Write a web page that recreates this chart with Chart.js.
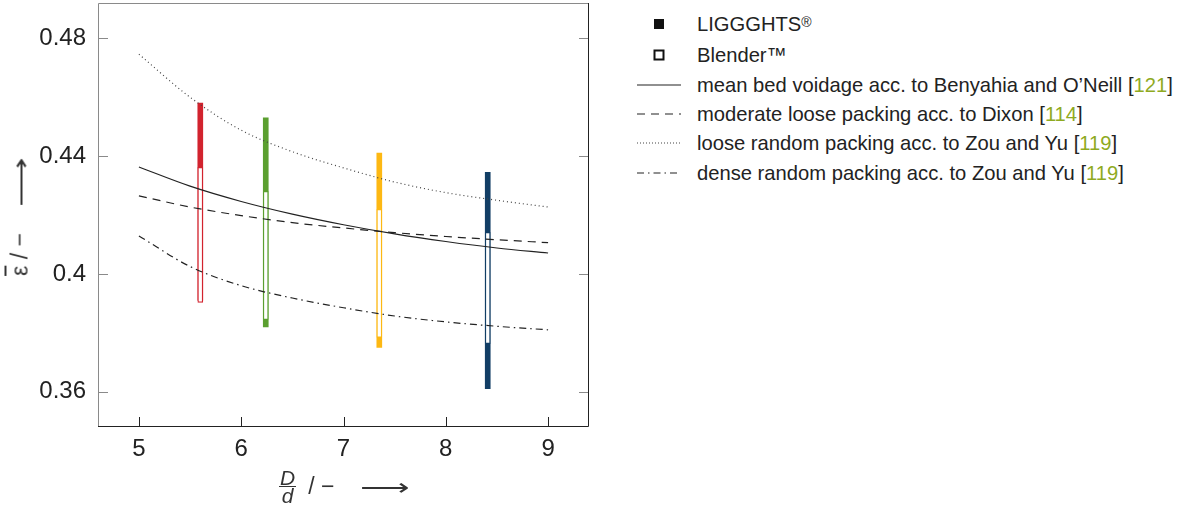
<!DOCTYPE html>
<html>
<head>
<meta charset="utf-8">
<script src="https://cdn.jsdelivr.net/npm/chart.js@4/dist/chart.umd.min.js"></script>
<style>
  html, body { margin: 0; padding: 0; background: #fff; }
  body { width: 1181px; height: 510px; position: relative; overflow: hidden; font-family: "Liberation Sans", Arial, sans-serif; color: #222; }
  #chart { position: absolute; left: 0; top: 0; }
  .legend { position: absolute; left: 636px; top: 0; }
  .row { position: absolute; left: 0; height: 30px; display: flex; align-items: center; white-space: nowrap; font-size: 20.2px; }
  .sym { width: 46px; height: 30px; display: flex; align-items: center; justify-content: center; margin-right: 15px; }
  .ref { color: #8faa1f; }
  .ytitle { position: absolute; left: 20px; top: 218px; transform: translate(-50%, -50%) rotate(-90deg); font-size: 23px; white-space: nowrap; color: #333; display: flex; align-items: center; }
  .xtitle { position: absolute; left: 279px; top: 469px; font-size: 23px; white-space: nowrap; display: flex; align-items: center; color: #333; }
  .frac { display: inline-flex; flex-direction: column; align-items: center; font-style: italic; font-size: 21px; line-height: 17px; margin-right: 12px; }
  .frac .num { border-bottom: 1.5px solid #333; padding: 0 1px; }
  .arrow { font-family: "DejaVu Sans", sans-serif; display: inline-block; transform: scaleX(1.5); transform-origin: left center; }
</style>
</head>
<body>
<canvas id="chart" width="600" height="510"></canvas>

<div class="ytitle"><span style="text-decoration:overline">ε</span>&nbsp;/&nbsp;−<span style="display:inline-block;width:26px"></span><span class="arrow" style="margin-right:14px">⟶</span></div>
<div class="xtitle"><span class="frac"><span class="num">D</span><span>d</span></span>/&nbsp;−<span style="display:inline-block;width:26px"></span><span class="arrow">⟶</span></div>

<div class="legend">
  <div class="row" style="top:9px"><span class="sym"><svg width="12" height="12"><rect x="1" y="1" width="10" height="10" fill="#111"/></svg></span>LIGGGHTS<sup style="font-size:14px;position:relative;top:-2px">®</sup></div>
  <div class="row" style="top:40px"><span class="sym"><svg width="12" height="12"><rect x="1.5" y="1.5" width="9" height="9" fill="#fff" stroke="#111" stroke-width="2"/></svg></span>Blender™</div>
  <div class="row" style="top:70px"><span class="sym"><svg width="46" height="4"><line x1="1" y1="2" x2="45" y2="2" stroke="#222" stroke-width="1.2"/></svg></span>mean bed voidage acc. to Benyahia and O’Neill [<span class="ref">121</span>]</div>
  <div class="row" style="top:99px"><span class="sym"><svg width="46" height="4"><line x1="1" y1="2" x2="45" y2="2" stroke="#222" stroke-width="1.2" stroke-dasharray="8,6"/></svg></span>moderate loose packing acc. to Dixon [<span class="ref">114</span>]</div>
  <div class="row" style="top:128px"><span class="sym"><svg width="46" height="4"><line x1="1" y1="2" x2="45" y2="2" stroke="#444" stroke-width="1.2" stroke-dasharray="1,2"/></svg></span>loose random packing acc. to Zou and Yu [<span class="ref">119</span>]</div>
  <div class="row" style="top:158px"><span class="sym"><svg width="46" height="4"><line x1="1" y1="2" x2="45" y2="2" stroke="#222" stroke-width="1.2" stroke-dasharray="7,4,1.5,4"/></svg></span>dense random packing acc. to Zou and Yu [<span class="ref">119</span>]</div>
</div>

<script>
// D/d positions for the correlation curves
const xVals     = [5, 5.5, 6, 6.5, 7, 7.5, 8, 8.5, 9];
const meanBed   = [0.4363, 0.4298, 0.4246, 0.4203, 0.4167, 0.4136, 0.4110, 0.4088, 0.4071];
const dixon     = [0.4265, 0.4227, 0.4198, 0.4174, 0.4156, 0.4140, 0.4127, 0.4116, 0.4106];
const looseZou  = [0.4746, 0.4600, 0.4488, 0.4415, 0.4360, 0.4312, 0.4276, 0.4250, 0.4227];
const denseZou  = [0.4129, 0.4025, 0.3960, 0.3918, 0.3885, 0.3857, 0.3837, 0.3822, 0.3810];

// simulated voidage ranges
const barX        = [5.6, 6.24, 7.35, 8.41];
const liggghtsMin = [0.391, 0.382, 0.375, 0.361];
const liggghtsMax = [0.458, 0.453, 0.441, 0.4345];
const blenderMin  = [0.3903, 0.3845, 0.3784, 0.3763];
const blenderMax  = [0.4362, 0.4280, 0.4219, 0.4141];
const barColors   = ["#d2232e", "#5b9f30", "#fdb813", "#123e65"];

const xTicks = [5, 6, 7, 8, 9];
const yTicks = [0.36, 0.4, 0.44, 0.48];

const pts = ys => xVals.map((x, i) => ({ x, y: ys[i] }));
const ranges = (lo, hi) => barX.map((x, i) => ({ x, y: [lo[i], hi[i]] }));

const line = (data, dash, color) => ({
  type: "line", data: pts(data), borderColor: color, borderWidth: 1.2, borderDash: dash,
  pointRadius: 0, cubicInterpolationMode: "monotone", fill: false, order: 0,
});

// box around plot plus inward ticks
const frame = {
  id: "frame",
  afterDraw(chart) {
    const { ctx, chartArea: a, scales: { x, y } } = chart;
    const t = 10;
    ctx.save();
    ctx.lineWidth = 1;
    ctx.strokeStyle = "#8a8a8a";
    ctx.beginPath();
    ctx.moveTo(a.left + 0.5, a.bottom); ctx.lineTo(a.left + 0.5, a.top + 0.5); ctx.lineTo(a.right, a.top + 0.5);
    yTicks.forEach(v => {
      const py = Math.round(y.getPixelForValue(v)) + 0.5;
      ctx.moveTo(a.left, py); ctx.lineTo(a.left + t, py);
      ctx.moveTo(a.right, py); ctx.lineTo(a.right - t, py);
    });
    ctx.stroke();
    ctx.strokeStyle = "#222";
    ctx.beginPath();
    ctx.moveTo(a.left, a.bottom - 0.5); ctx.lineTo(a.right - 0.5, a.bottom - 0.5); ctx.lineTo(a.right - 0.5, a.top);
    xTicks.forEach(v => {
      const px = Math.round(x.getPixelForValue(v)) + 0.5;
      ctx.moveTo(px, a.bottom); ctx.lineTo(px, a.bottom - t);
    });
    ctx.stroke();
    ctx.restore();
  }
};

new Chart(document.getElementById("chart"), {
  data: {
    datasets: [
      line(meanBed, [], "#222"),
      line(dixon, [8, 6], "#222"),
      line(looseZou, [1, 3], "#444"),
      line(denseZou, [7, 4, 1.5, 4], "#222"),
      {
        type: "bar", label: "Blender", data: ranges(blenderMin, blenderMax),
        backgroundColor: "#fff", borderColor: barColors, borderWidth: 1.2, borderSkipped: false,
        barThickness: 5, grouped: false, order: 1,
      },
      {
        type: "bar", label: "LIGGGHTS", data: ranges(liggghtsMin, liggghtsMax),
        backgroundColor: barColors, borderWidth: 0,
        barThickness: 5, grouped: false, order: 2,
      },
    ]
  },
  options: {
    responsive: false,
    animation: false,
    layout: { padding: { top: 3, right: 11, left: 0, bottom: 0 } },
    plugins: { legend: { display: false }, tooltip: { enabled: false } },
    scales: {
      x: {
        type: "linear", min: 4.6, max: 9.4, offset: false,
        grid: { display: false, drawTicks: false }, border: { display: false },
        afterBuildTicks: s => { s.ticks = xTicks.map(v => ({ value: v })); },
        afterFit: s => { s.height = 83; s.paddingLeft = 0; s.paddingRight = 0; },
        ticks: { padding: 8, color: "#222", font: { family: "Liberation Sans", size: 24 } },
      },
      y: {
        type: "linear", min: 0.348, max: 0.492,
        grid: { display: false, drawTicks: false }, border: { display: false },
        afterBuildTicks: s => { s.ticks = yTicks.map(v => ({ value: v })); },
        afterFit: s => { s.width = 98; s.paddingTop = 0; s.paddingBottom = 0; },
        ticks: {
          padding: 12, color: "#222", font: { family: "Liberation Sans", size: 24 },
          callback: v => String(+v.toFixed(2)),
        },
      }
    }
  },
  plugins: [frame]
});
</script>
</body>
</html>
